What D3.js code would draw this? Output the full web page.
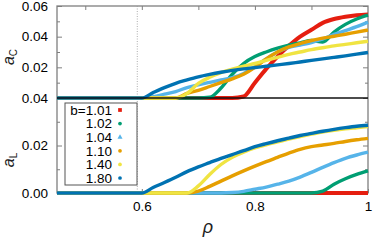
<!DOCTYPE html>
<html>
<head>
<meta charset="utf-8">
<script src="https://cdn.jsdelivr.net/npm/d3@7"></script>
<style>
  body { margin: 0; background: #fff; }
  svg { display: block; }
  text { font-family: "Liberation Sans", Arial, sans-serif; }
</style>
</head>
<body>
<div id="chart"></div>
<script>
// ---- data
var rho = [0.45, 0.50, 0.55, 0.58, 0.60, 0.62, 0.64, 0.66, 0.68, 0.70, 0.72, 0.74, 0.76,
           0.78, 0.80, 0.82, 0.84, 0.86, 0.88, 0.90, 0.92, 0.94, 0.96, 0.98, 1.00];

var bLabels = ["b=1.01", "1.02", "1.04", "1.10", "1.40", "1.80"];
var colors = ["#e51e10", "#009e73", "#56b4e9", "#e69f00", "#f0e442", "#0072b2"];
var symbols = ["square", "circle", "triangle", "circle", "circle", "circle"];

// top panel, a_C
var aC_101 = [0, 0, 0, 0, 0, 0, 0, 0, 0, 0, 0, 0, 0, 0.001, 0.010, 0.019, 0.027, 0.034, 0.040, 0.0445, 0.049, 0.0515, 0.053, 0.054, 0.0545];
var aC_102 = [0, 0, 0, 0, 0, 0, 0, 0, 0, 0, 0.0005, 0.0065, 0.0155, 0.0225, 0.027, 0.030, 0.0325, 0.0345, 0.036, 0.0375, 0.0365, 0.043, 0.048, 0.0515, 0.054];
var aC_104 = [0, 0, 0, 0, 0, 0.0008, 0.0025, 0.0042, 0.0068, 0.0086, 0.0102, 0.0118, 0.0132, 0.016, 0.0205, 0.0255, 0.030, 0.033, 0.0345, 0.0362, 0.0385, 0.0415, 0.044, 0.0465, 0.0495];
var aC_110 = [0, 0, 0, 0, 0, 0, 0, 0, 0.003, 0.005, 0.0075, 0.010, 0.0125, 0.0155, 0.020, 0.0255, 0.030, 0.0333, 0.0355, 0.0375, 0.039, 0.0403, 0.0416, 0.043, 0.0443];
var aC_140 = [0, 0, 0, 0, 0, 0, 0, 0, 0.003, 0.0095, 0.0135, 0.0165, 0.0188, 0.0208, 0.0225, 0.0245, 0.0265, 0.0285, 0.030, 0.0315, 0.0328, 0.034, 0.035, 0.036, 0.037];
var aC_180 = [0, 0, 0, 0, 0, 0.0035, 0.0068, 0.0096, 0.0118, 0.0138, 0.0154, 0.0168, 0.018, 0.019, 0.0198, 0.0207, 0.0216, 0.0225, 0.0235, 0.0245, 0.0255, 0.0265, 0.0275, 0.0286, 0.0297];

// bottom panel, a_L
var aL_101 = [0, 0, 0, 0, 0, 0, 0, 0, 0, 0, 0, 0, 0, 0, 0, 0, 0, 0, 0, 0, 0, 0, 0, 0, 0];
var aL_102 = [0, 0, 0, 0, 0, 0, 0, 0, 0, 0, 0, 0, 0, 0, 0, 0, 0, 0, 0, 0, 0.0008, 0.0037, 0.006, 0.0078, 0.0093];
var aL_104 = [0, 0, 0, 0, 0, 0, 0, 0, 0, 0, 0, 0, 0.0002, 0.0007, 0.0016, 0.0025, 0.0037, 0.005, 0.0067, 0.0087, 0.0108, 0.0128, 0.0146, 0.016, 0.0172];
var aL_110 = [0, 0, 0, 0, 0, 0, 0, 0, 0, 0.0008, 0.0028, 0.005, 0.0072, 0.0093, 0.0113, 0.0132, 0.015, 0.0168, 0.0184, 0.0195, 0.0202, 0.0209, 0.0217, 0.0224, 0.023];
var aL_140 = [0, 0, 0, 0, 0, 0, 0, 0, 0, 0.003, 0.0078, 0.012, 0.015, 0.0172, 0.019, 0.0203, 0.0215, 0.0227, 0.0238, 0.0248, 0.0257, 0.0264, 0.027, 0.0275, 0.028];
var aL_180 = [0, 0, 0, 0, 0, 0.0023, 0.0044, 0.0066, 0.009, 0.011, 0.0128, 0.0146, 0.0162, 0.0178, 0.0195, 0.0208, 0.022, 0.0231, 0.0242, 0.0251, 0.026, 0.0268, 0.0275, 0.0281, 0.0285];

var topSeries = [aC_101, aC_102, aC_104, aC_110, aC_140, aC_180];
var botSeries = [aL_101, aL_102, aL_104, aL_110, aL_140, aL_180];
var rhoMark = 0.592;   // dotted vertical line

// ---- layout
var W = 374, H = 240;
var left = 57, right = 368;
var topY = 6, midY = 98, botY = 193;

var svg = d3.select("#chart").append("svg")
    .attr("width", W).attr("height", H);

var x = d3.scaleLinear().domain([0.45, 1.0]).range([left, right]);
var yTop = d3.scaleLinear().domain([0, 0.06]).range([midY, topY]);
var yBot = d3.scaleLinear().domain([0, 0.04]).range([botY, midY]);

var fmt = d3.format(".2f");
var gray = "#7f7f7f";

function styleAxis(g) {
  g.select(".domain").remove();
  g.selectAll("line").attr("stroke", gray).attr("stroke-width", 1);
  g.selectAll("text").attr("font-size", 13.5).attr("fill", "#000")
    .attr("font-family", "'Liberation Sans', Arial, sans-serif");
}

// y axes (ticks point inward), minor ticks every 0.01
function yAxes(scale, labelled, minor) {
  svg.append("g").attr("transform", "translate(" + left + ",0)")
    .call(d3.axisLeft(scale).tickValues(minor).tickSize(-3).tickFormat(""))
    .call(styleAxis);
  svg.append("g").attr("transform", "translate(" + right + ",0)")
    .call(d3.axisRight(scale).tickValues(minor).tickSize(-3).tickFormat(""))
    .call(styleAxis);
  svg.append("g").attr("transform", "translate(" + left + ",0)")
    .call(d3.axisLeft(scale).tickValues(labelled).tickSize(-5).tickPadding(9).tickFormat(fmt))
    .call(styleAxis);
  svg.append("g").attr("transform", "translate(" + right + ",0)")
    .call(d3.axisRight(scale).tickValues(labelled).tickSize(-5).tickFormat(""))
    .call(styleAxis);
}

yAxes(yTop, [0.02, 0.04, 0.06], [0.01, 0.03, 0.05]);
yAxes(yBot, [0, 0.02, 0.04], [0.01, 0.03]);

// x axes: top of upper panel, bottom of lower panel
svg.append("g").attr("transform", "translate(0," + topY + ")")
  .call(d3.axisTop(x).tickValues([0.5, 0.6, 0.7, 0.8, 0.9]).tickSize(-4).tickFormat(""))
  .call(styleAxis);
svg.append("g").attr("transform", "translate(0," + botY + ")")
  .call(d3.axisBottom(x).tickValues([0.6, 0.8, 1.0]).tickSize(-4).tickPadding(8)
        .tickFormat(function(d) { return d === 1 ? "1" : d3.format(".1f")(d); }))
  .call(styleAxis);

// frames
svg.append("rect").attr("x", left).attr("y", topY)
  .attr("width", right - left).attr("height", botY - topY)
  .attr("fill", "none").attr("stroke", gray).attr("stroke-width", 1.3);

// dotted marker line
svg.append("line")
  .attr("x1", x(rhoMark)).attr("x2", x(rhoMark))
  .attr("y1", topY).attr("y2", botY)
  .attr("stroke", "#999").attr("stroke-width", 0.8)
  .attr("stroke-dasharray", "1,1.5");

// curves
function drawPanel(series, yScale) {
  var line = d3.line()
    .x(function(d, i) { return x(rho[i]); })
    .y(function(d) { return yScale(d); })
    .curve(d3.curveMonotoneX);
  series.forEach(function(s, k) {
    svg.append("path")
      .datum(s)
      .attr("d", line)
      .attr("fill", "none")
      .attr("stroke", colors[k])
      .attr("stroke-width", k === 0 ? 4 : 3.4)
      .attr("stroke-linejoin", "round");
  });
}
drawPanel(topSeries, yTop);
drawPanel(botSeries, yBot);

// panel separator
svg.append("line").attr("x1", left).attr("x2", right)
  .attr("y1", midY).attr("y2", midY)
  .attr("stroke", "#111").attr("stroke-width", 1.4);

// legend
var lg = svg.append("g");
lg.append("rect").attr("x", 65).attr("y", 103).attr("width", 72).attr("height", 82)
  .attr("fill", "#fff").attr("stroke", "#555").attr("stroke-width", 1);
bLabels.forEach(function(lab, i) {
  var cy = 110 + i * 13.6;
  lg.append("text").attr("x", 112).attr("y", cy).attr("dy", "0.36em")
    .attr("text-anchor", "end").attr("font-size", 13.5).text(lab);
  var sym = symbols[i] === "square" ? d3.symbolSquare
          : symbols[i] === "triangle" ? d3.symbolTriangle : d3.symbolCircle;
  lg.append("path")
    .attr("transform", "translate(120," + cy + ")")
    .attr("d", d3.symbol().type(sym).size(symbols[i] === "square" ? 14 : 11)())
    .attr("fill", colors[i]);
});

// axis titles
function yTitle(cx, cy, sub) {
  var t = svg.append("text")
    .attr("transform", "translate(" + cx + "," + cy + ") rotate(-90)")
    .attr("text-anchor", "middle")
    .attr("font-family", "'Liberation Serif', 'DejaVu Serif', serif")
    .attr("font-size", 16).attr("fill", "#222");
  t.append("tspan").attr("font-style", "italic").text("a");
  t.append("tspan").attr("font-size", 10).attr("dy", 3)
    .attr("font-family", "'Liberation Sans', Arial, sans-serif").text(sub);
}
yTitle(14, 57, "C");
yTitle(14, 160, "L");

svg.append("text").attr("x", 208).attr("y", 233)
  .attr("text-anchor", "middle")
  .attr("font-family", "'Liberation Serif', 'DejaVu Serif', serif")
  .attr("font-style", "italic").attr("font-size", 18).attr("fill", "#222")
  .text("ρ");
</script>
</body>
</html>
